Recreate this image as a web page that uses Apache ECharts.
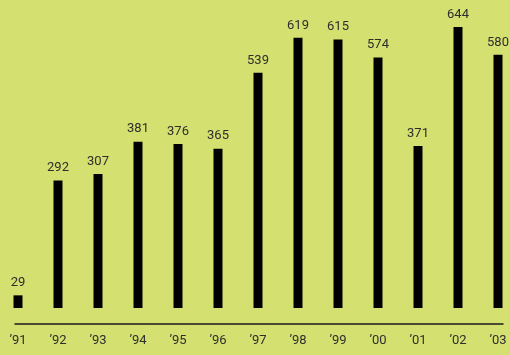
<!DOCTYPE html>
<html><head><meta charset="utf-8">
<script src="https://cdn.jsdelivr.net/npm/echarts@6/dist/echarts.min.js"></script>
<style>html,body{margin:0;padding:0;background:#d4e06f;overflow:hidden;width:510px;height:355px}#c{position:absolute;left:-2.5px;top:0;width:520px;height:355px}</style>
</head><body><div id="c"></div>
<script>
const years = ["’91","’92","’93","’94","’95","’96","’97","’98","’99","’00","’01","’02","’03"];
const values = [29,292,307,381,376,365,539,619,615,574,371,644,580];
const chart = echarts.init(document.getElementById('c'));
chart.setOption({
  backgroundColor: '#d4e06f',
  animation: false,
  grid: {left: 0, right: 0, top: 2.5, bottom: 47},
  xAxis: {
    type: 'category', data: years,
    axisLine: {show: false}, axisTick: {show: false},
    axisLabel: {margin: 26, fontFamily: 'Roboto', fontSize: 13, color: '#2e2e2e'}
  },
  yAxis: {type: 'value', min: 0, max: 700, show: false, splitLine: {show: false}},
  graphic: [{type: 'line', shape: {x1: 16.5, y1: 324, x2: 505.5, y2: 324}, style: {stroke: '#1a1a1a', lineWidth: 1.5}}],
  series: [{
    type: 'bar', data: values, barWidth: 9,
    itemStyle: {color: '#000'},
    label: {show: true, position: 'top', distance: 6, fontFamily: 'Roboto', fontSize: 13, color: '#2e2e2e'}
  }]
});
</script></body></html>
